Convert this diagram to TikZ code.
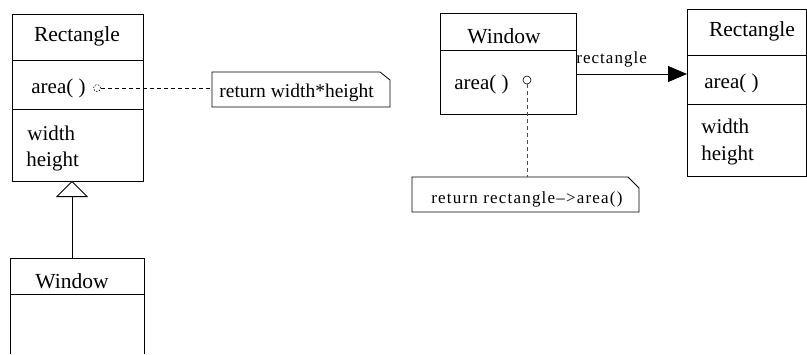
\documentclass[tikz,border=0pt]{standalone}
\usepackage{fontspec}
\setmainfont{Liberation Serif}
\usetikzlibrary{arrows.meta}
\begin{document}
\begin{tikzpicture}[x=1pt,y=-1pt, line width=0.8pt,
  lbl/.style={anchor=base west, inner sep=0, font=\fontsize{21}{24}\selectfont},
  ttl/.style={anchor=base, inner sep=0, font=\fontsize{21.5}{24}\selectfont},
  notetxt/.style={anchor=base west, inner sep=0},
  classbox/.style={draw, anchor=north west, inner sep=0, outer sep=0},
  notebox/.style={anchor=north west, inner sep=0, outer sep=0},
  noteline/.style={line width=0.6pt, dash pattern=on 4pt off 3pt},
  hole/.style={circle, draw, inner sep=0, line width=0.6pt}]
\useasboundingbox (0,0) rectangle (807,354);

% ---------- left: inheritance ----------
\node[classbox, minimum width=131pt, minimum height=167pt] (r1) at (12,14) {};
\draw (12,60) -- (143,60);
\draw (12,109) -- (143,109);
\node[ttl] (r1t) at (77,41) {Rectangle};
\node[lbl] (r1a) at (31,93) {area( )};
\node[lbl] (r1w) at (27,140) {width};
\node[lbl] (r1h) at (26,166) {height};
\node[hole, dash pattern=on 1.5pt off 1.5pt, minimum size=7pt] (c1) at (97,88) {};

\node[notebox, minimum width=178pt, minimum height=35pt] (n1) at (212,72) {};
\draw (n1.north west) -- ([xshift=-10pt]n1.north east) -- ([yshift=-8pt]n1.north east)
      -- (n1.south east) -- (n1.south west) -- cycle;
\node[notetxt, font=\fontsize{19.5}{22}\selectfont] (n1t) at (219,97) {return width*height};
\draw[noteline] (c1.east) -- (c1.east -| n1.west);

\draw (10,354) -- (10,258) -- (144,258) -- (144,354);
\draw (10,294) -- (144,294);
\coordinate (w1top) at (72,258);
\node[ttl] (w1t) at (72,288) {Window};
\draw[-{Triangle[open, length=16pt, width=32pt, fill=white]}] (w1top) -- (w1top |- r1.south);

% ---------- right: delegation ----------
\node[classbox, minimum width=136pt, minimum height=101pt] (w2) at (440,13) {};
\draw (440,50) -- (576,50);
\node[ttl] (w2t) at (504,43) {Window};
\node[lbl] (w2a) at (454,89) {area( )};
\node[hole, minimum size=8pt] (c2) at (527,80) {};

\node[classbox, minimum width=119pt, minimum height=167pt] (r2) at (687,9) {};
\draw (687,55) -- (806,55);
\draw (687,104) -- (806,104);
\node[ttl] (r2t) at (752,36) {Rectangle};
\node[lbl] (r2a) at (704,88) {area( )};
\node[lbl] (r2w) at (701,133) {width};
\node[lbl] (r2h) at (701,160) {height};

\coordinate (a1) at (576,74);
\draw[-{Triangle[length=19pt, width=16pt]}] (a1) -- (a1 -| r2.west)
  node[pos=0, anchor=base west, inner sep=0, yshift=11pt,
       font=\fontsize{17}{20}\selectfont\addfontfeature{LetterSpace=6}] (al) {rectangle};

\node[notebox, minimum width=227pt, minimum height=35pt] (n2) at (412,177) {};
\draw (n2.north west) -- ([xshift=-11pt]n2.north east) -- ([yshift=-11pt]n2.north east)
      -- (n2.south east) -- (n2.south west) -- cycle;
\node[notetxt, font=\fontsize{17}{20}\selectfont\addfontfeature{LetterSpace=7}] (n2t) at (431,203) {return rectangle–>area()};
\draw[noteline, draw=black!70] (c2.south) -- (c2.south |- n2.north);
\end{tikzpicture}
\end{document}
